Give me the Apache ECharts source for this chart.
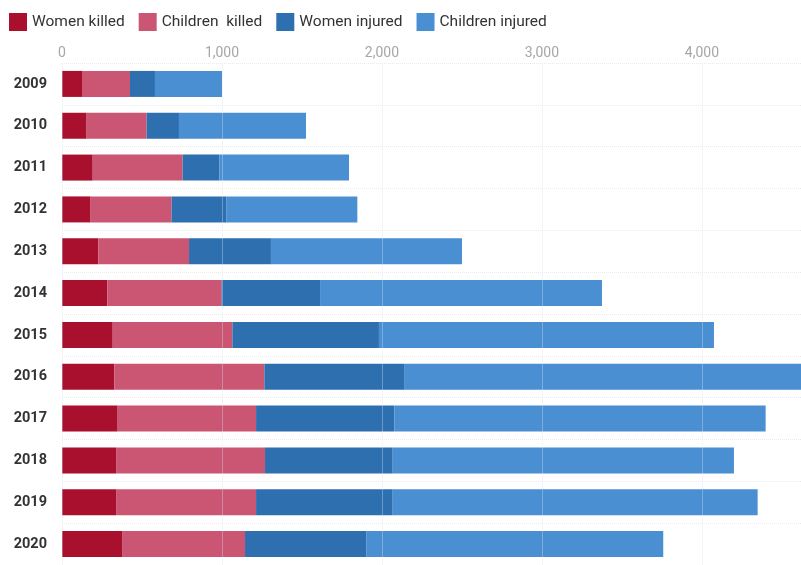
<!DOCTYPE html>
<html>
<head>
<meta charset="utf-8">
<script src="https://cdn.jsdelivr.net/npm/echarts@6/dist/echarts.min.js"></script>
<style>html,body{margin:0;padding:0;background:#fff}#c{width:801px;height:565px}</style>
</head>
<body>
<div id="c"></div>
<script>
var years = ['2009','2010','2011','2012','2013','2014','2015','2016','2017','2018','2019','2020'];
var womenKilled     = [125, 154, 192, 179, 227, 283, 317, 327, 348, 338, 338, 379];
var childrenKilled  = [300, 375, 562, 506, 567, 715, 748, 938, 865, 931, 875, 765];
var womenInjured    = [156, 202, 229, 344, 512, 615, 916, 873, 864, 798, 854, 760];
var childrenInjured = [419, 794, 811, 817, 1194, 1762, 2094, 2520, 2321, 2133, 2281, 1854];
var xTicks = [0, 1000, 2000, 3000, 4000];

var colors = ['#a8102e', '#ca5673', '#2e6fb0', '#4a8fd2'];
var names = ['Women killed', 'Children  killed', 'Women injured', 'Children injured'];
var data = [womenKilled, childrenKilled, womenInjured, childrenInjured];

var chart = echarts.init(document.getElementById('c'));
chart.setOption({
  animation: false,
  color: colors,
  textStyle: { fontFamily: 'Roboto, "Open Sans", sans-serif' },
  legend: {
    top: 8, left: 4,
    itemWidth: 18, itemHeight: 18, itemGap: 14,
    icon: 'rect',
    selectedMode: false,
    textStyle: { fontSize: 15.5, color: '#333', padding: [0, 0, 0, 0] },
    data: names
  },
  grid: { left: 62, right: 0, top: 63, height: 504, containLabel: false },
  xAxis: {
    type: 'value', position: 'top', min: 0, max: 4619, interval: 1000,
    z: 5,
    axisLine: { show: false }, axisTick: { show: false },
    axisLabel: {
      margin: 3, color: '#a6a6a6', fontSize: 14, showMaxLabel: false,
      formatter: function (v) { return xTicks.indexOf(v) >= 0 ? v.toLocaleString('en-US') : ''; }
    },
    splitLine: { show: true, lineStyle: { color: 'rgba(215,232,250,0.35)', width: 1 } }
  },
  yAxis: {
    type: 'category', inverse: true, data: years,
    axisLine: { show: false }, axisTick: { show: false },
    axisLabel: { margin: 15, color: '#333', fontSize: 14.5, fontWeight: 'bold' },
    splitLine: { show: true, lineStyle: { color: '#e9e9e9', width: 1, type: 'dotted' } }
  },
  series: names.map(function (n, i) {
    return {
      name: n, type: 'bar', stack: 'total', data: data[i],
      barWidth: 26, itemStyle: { color: colors[i] }
    };
  })
});
</script>
</body>
</html>
